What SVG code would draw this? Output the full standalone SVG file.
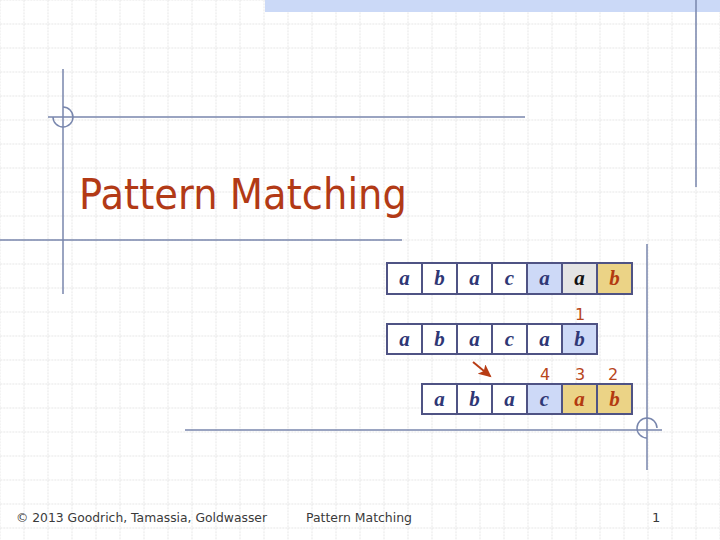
<svg xmlns="http://www.w3.org/2000/svg" width="720" height="540" viewBox="0 0 720 540">
<defs>
<pattern id="grid" x="0.5" y="0.5" width="24" height="24" patternUnits="userSpaceOnUse">
<path d="M24 0 V24 M0 24 H24" fill="none" stroke="#bcbcbc" stroke-width="1" stroke-dasharray="1.5 1.5"/>
</pattern>
<marker id="ah" markerWidth="14" markerHeight="14" refX="11" refY="6" orient="auto" markerUnits="userSpaceOnUse">
<path d="M0 0 L13 6 L0 12 L3 6 Z" fill="#b83c14"/>
</marker>
<style>
.deco{stroke:#7886ad;stroke-width:1.5;fill:none}
.cell{stroke:#4f5384;stroke-width:2}
.w{fill:#ffffff}.bl{fill:#cdd9f7}.gr{fill:#e4e4e4}.ye{fill:#ebd386}
.ch{font-family:"Liberation Serif",serif;font-style:italic;font-weight:bold;font-size:21px;text-anchor:middle;fill:#2f3775}
.chk{fill:#111111}.chr{fill:#b33a10}
.num{font-family:"DejaVu Sans","Liberation Sans",sans-serif;font-size:16px;text-anchor:middle;fill:#b8461c}
.foot{font-family:"DejaVu Sans","Liberation Sans",sans-serif;font-size:13px;fill:#3a3a3a}
</style>
</defs>
<rect width="720" height="540" fill="#ffffff"/>
<rect width="720" height="540" fill="url(#grid)"/>
<rect x="265" y="0" width="455" height="12" fill="#cbd9f7"/>
<g id="decoration">
<line class="deco" x1="696" y1="0" x2="696" y2="187"/>
<line class="deco" x1="63" y1="69" x2="63" y2="294"/>
<line class="deco" x1="48" y1="117" x2="525" y2="117"/>
<path class="deco" d="M63 107 A10 10 0 1 1 53 117" stroke-width="1.2"/>
<line class="deco" x1="0" y1="240" x2="402" y2="240"/>
<line class="deco" x1="647" y1="244" x2="647" y2="470"/>
<line class="deco" x1="185" y1="430" x2="662" y2="430"/>
<path class="deco" d="M657 428 A10 10 0 1 0 647 438" stroke-width="1.2"/>
</g>
<text x="79" y="209" font-family="DejaVu Sans,Liberation Sans,sans-serif" font-size="43" fill="#b23a16" textLength="328" lengthAdjust="spacingAndGlyphs">Pattern Matching</text>
<g id="row1">
<rect class="cell w" x="387" y="263" width="35" height="31"/>
<rect class="cell w" x="422" y="263" width="35" height="31"/>
<rect class="cell w" x="457" y="263" width="35" height="31"/>
<rect class="cell w" x="492" y="263" width="35" height="31"/>
<rect class="cell bl" x="527" y="263" width="35" height="31"/>
<rect class="cell gr" x="562" y="263" width="35" height="31"/>
<rect class="cell ye" x="597" y="263" width="35" height="31"/>
<text class="ch" x="404.5" y="285">a</text>
<text class="ch" x="439.5" y="285">b</text>
<text class="ch" x="474.5" y="285">a</text>
<text class="ch" x="509.5" y="285">c</text>
<text class="ch" x="544.5" y="285">a</text>
<text class="ch chk" x="579.5" y="285">a</text>
<text class="ch chr" x="614.5" y="285">b</text>
</g>
<g id="row2">
<rect class="cell w" x="387" y="324" width="35" height="30"/>
<rect class="cell w" x="422" y="324" width="35" height="30"/>
<rect class="cell w" x="457" y="324" width="35" height="30"/>
<rect class="cell w" x="492" y="324" width="35" height="30"/>
<rect class="cell w" x="527" y="324" width="35" height="30"/>
<rect class="cell bl" x="562" y="324" width="35" height="30"/>
<text class="ch" x="404.5" y="346">a</text>
<text class="ch" x="439.5" y="346">b</text>
<text class="ch" x="474.5" y="346">a</text>
<text class="ch" x="509.5" y="346">c</text>
<text class="ch" x="544.5" y="346">a</text>
<text class="ch" x="579.5" y="346">b</text>
<text class="num" x="580" y="320">1</text>
</g>
<g id="row3">
<rect class="cell w" x="422" y="384" width="35" height="30"/>
<rect class="cell w" x="457" y="384" width="35" height="30"/>
<rect class="cell w" x="492" y="384" width="35" height="30"/>
<rect class="cell bl" x="527" y="384" width="35" height="30"/>
<rect class="cell ye" x="562" y="384" width="35" height="30"/>
<rect class="cell ye" x="597" y="384" width="35" height="30"/>
<text class="ch" x="439.5" y="406">a</text>
<text class="ch" x="474.5" y="406">b</text>
<text class="ch" x="509.5" y="406">a</text>
<text class="ch" x="544.5" y="406">c</text>
<text class="ch chr" x="579.5" y="406">a</text>
<text class="ch chr" x="614.5" y="406">b</text>
<text class="num" x="545" y="380">4</text>
<text class="num" x="580" y="380">3</text>
<text class="num" x="613" y="380">2</text>
</g>
<g id="connectors">
<line x1="473" y1="362" x2="490" y2="376" stroke="#b83c14" stroke-width="2" marker-end="url(#ah)"/>
</g>
<text class="foot" x="16" y="522" textLength="251" lengthAdjust="spacingAndGlyphs">© 2013 Goodrich, Tamassia, Goldwasser</text>
<text class="foot" x="306" y="522" textLength="106" lengthAdjust="spacingAndGlyphs">Pattern Matching</text>
<text class="foot" x="652" y="522">1</text>
</svg>
